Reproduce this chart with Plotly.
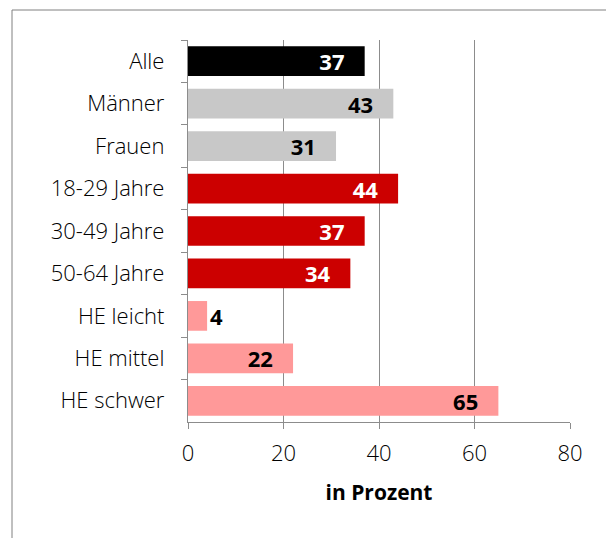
import plotly.graph_objects as go

categories = ["Alle", "Männer", "Frauen", "18-29 Jahre", "30-49 Jahre",
              "50-64 Jahre", "HE leicht", "HE mittel", "HE schwer"]
values = [37, 43, 31, 44, 37, 34, 4, 22, 65]
bar_colors = ["#000000", "#c8c8c8", "#c8c8c8", "#cc0000", "#cc0000",
              "#cc0000", "#ff9999", "#ff9999", "#ff9999"]
label_colors = ["#ffffff", "#000000", "#000000", "#ffffff", "#ffffff",
                "#ffffff", "#000000", "#000000", "#000000"]
label_pos = ["inside", "inside", "inside", "inside", "inside",
             "inside", "outside", "inside", "inside"]
x_ticks = [0, 20, 40, 60, 80]

font_family = "Open Sans, Noto Sans, sans-serif"
pad = "\u00a0\u00a0\u00a0"  # keeps inside labels away from the bar end

# page body has an 8px margin, so the figure is 8px smaller and everything shifts by -8
W, H = 606, 530
L, R, T, B = 180, 44, 32, 116
pw, ph = W - L - R, H - T - B

fig = go.Figure(go.Bar(
    x=values,
    y=categories,
    orientation="h",
    marker={"color": bar_colors, "line": {"width": 0}},
    width=0.7,
    text=[str(v) + (pad if p == "inside" else "") for v, p in zip(values, label_pos)],
    textposition=label_pos,
    textangle=0,
    constraintext="none",
    insidetextanchor="end",
    textfont={"family": font_family, "size": 22, "color": label_colors, "weight": "bold"},
    cliponaxis=False,
))

# grey frame around the chart, cut off on the right and bottom like the original
fig.add_shape(type="rect", xref="paper", yref="paper",
              x0=(4 - L) / pw, x1=(W + 20 - L) / pw,
              y0=-(B + 20) / ph, y1=(ph + T - 2) / ph,
              line={"color": "#808080", "width": 1}, fillcolor="rgba(0,0,0,0)")

fig.update_layout(
    width=W, height=H,
    margin={"l": L, "r": R, "t": T, "b": B},
    paper_bgcolor="white", plot_bgcolor="white",
    showlegend=False,
    font={"family": font_family, "size": 22, "color": "#000000", "weight": 300},
    xaxis={
        "range": [0, 80], "tickvals": x_ticks,
        "showgrid": True, "gridcolor": "#8c8c8c", "gridwidth": 1.3,
        "showline": True, "linecolor": "#8c8c8c", "linewidth": 1.3,
        "ticks": "outside", "ticklen": 6, "tickcolor": "#8c8c8c",
        "ticklabelstandoff": 5,
        "zeroline": False,
        "title": {"text": "<b>in Prozent</b>", "standoff": 19,
                  "font": {"size": 21, "color": "#000000"}},
    },
    yaxis={
        "autorange": "reversed",
        "showline": True, "linecolor": "#8c8c8c", "linewidth": 1.3,
        "ticks": "outside", "ticklen": 6, "tickcolor": "#8c8c8c",
        "tickson": "boundaries",
        "ticklabelstandoff": 18,
        "showgrid": False,
    },
)

fig.write_html("out.html")
